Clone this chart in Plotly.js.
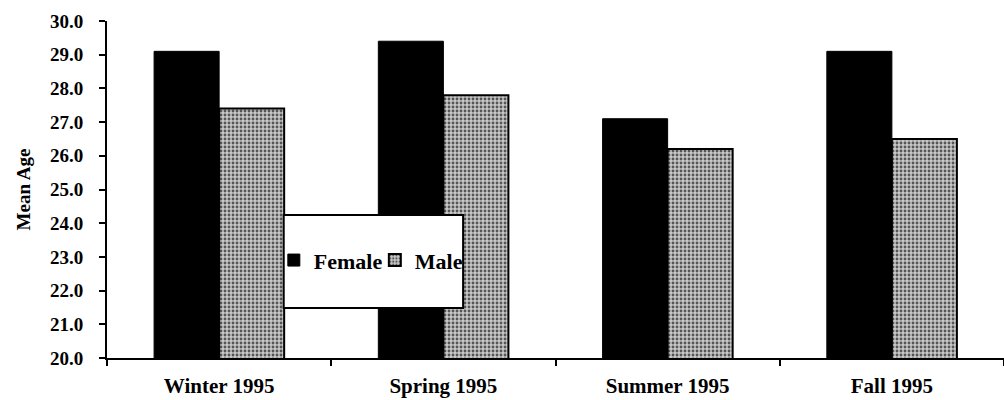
<!DOCTYPE html>
<html>
<head>
<meta charset="utf-8">
<script src="https://cdn.plot.ly/plotly-3.0.1.min.js"></script>
<style>html,body{margin:0;padding:0;background:#fff;}#chart{width:1004px;height:400px;}</style>
</head>
<body>
<div id="chart"></div>
<script>
var categories = ["Winter 1995", "Spring 1995", "Summer 1995", "Fall 1995"];
var femaleValues = [29.1, 29.4, 27.1, 29.1];
var maleValues = [27.4, 27.8, 26.2, 26.5];
var yTickVals = [20, 21, 22, 23, 24, 25, 26, 27, 28, 29, 30];
var boundaryVals = [-0.5, 0.5, 1.5, 2.5, 3.5];

var serif = "'Liberation Serif', 'Times New Roman', serif";

var traces = [
  {
    type: "bar", name: "Female", x: categories, y: femaleValues,
    marker: {color: "#000000", line: {color: "#000000", width: 1}}
  },
  {
    type: "bar", name: "Male", x: categories, y: maleValues,
    marker: {
      color: "#b8b8b8",
      line: {color: "#000000", width: 2},
      pattern: {shape: ".", bgcolor: "#c8c8c8", fgcolor: "#555555", size: 4, solidity: 0.4}
    }
  }
];

var layout = {
  width: 1004, height: 400,
  margin: {l: 107, r: 0, t: 21, b: 42, pad: 0},
  paper_bgcolor: "#ffffff", plot_bgcolor: "#ffffff",
  font: {family: serif, color: "#000000", size: 18, weight: "bold"},
  barmode: "group", bargap: 0.42, bargroupgap: 0,
  showlegend: true,
  legend: {
    orientation: "h", x: 0.186, xanchor: "left", y: 0.29, yanchor: "middle",
    bgcolor: "rgba(0,0,0,0)", borderwidth: 0,
    font: {family: serif, size: 22, weight: "bold", color: "#000"},
    itemwidth: 30, entrywidth: 56, entrywidthmode: "pixels", traceorder: "normal"
  },
  xaxis: {
    type: "category", categoryarray: categories,
    showline: true, linecolor: "#000", linewidth: 2,
    ticks: "outside", tickson: "boundaries", ticklen: 6, tickwidth: 2, tickcolor: "#000",
    showgrid: false, zeroline: false,
    tickfont: {family: serif, size: 21, weight: "bold"},
    ticklabelstandoff: 8
  },
  xaxis2: {
    overlaying: "x", anchor: "y", range: [-0.5, 3.5], tickvals: boundaryVals,
    ticks: "inside", ticklen: 6, tickwidth: 2, tickcolor: "#000",
    showticklabels: false, showgrid: false, zeroline: false, showline: false
  },
  yaxis: {
    range: [20, 30], tickvals: yTickVals, tickformat: ".1f",
    showline: true, linecolor: "#000", linewidth: 2,
    ticks: "outside", ticklen: 6, tickwidth: 2, tickcolor: "#000",
    showgrid: false, zeroline: false,
    tickfont: {family: serif, size: 19, weight: "bold"},
    ticklabelstandoff: 12,
    title: {text: "Mean Age", font: {family: serif, size: 19, weight: "bold"}, standoff: 14}
  },
  yaxis2: {
    overlaying: "y", anchor: "x", range: [20, 30], tickvals: yTickVals,
    ticks: "inside", ticklen: 6, tickwidth: 2, tickcolor: "#000",
    showticklabels: false, showgrid: false, zeroline: false, showline: false
  },
  shapes: [
    {type: "rect", xref: "paper", yref: "paper", x0: 0.197, x1: 0.397, y0: 0.148, y1: 0.424,
     fillcolor: "#ffffff", line: {color: "#000", width: 2}, layer: "above"}
  ]
};

Plotly.newPlot("chart", traces, layout, {displayModeBar: false, staticPlot: true});
</script>
</body>
</html>
